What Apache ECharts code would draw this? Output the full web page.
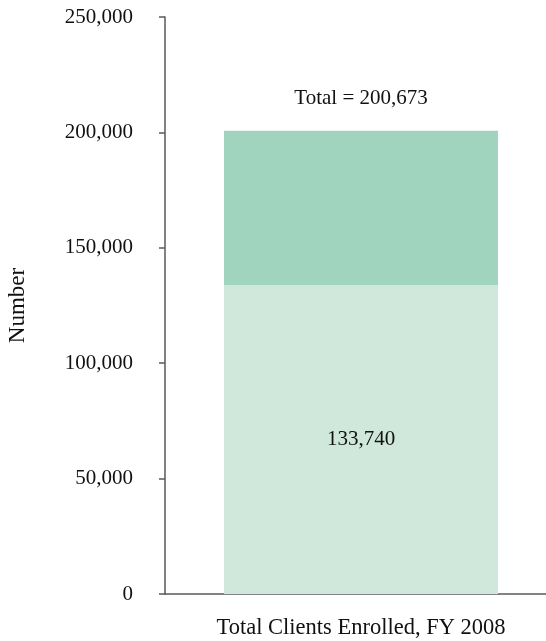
<!DOCTYPE html>
<html>
<head>
<meta charset="utf-8">
<script src="https://cdn.jsdelivr.net/npm/echarts@6/dist/echarts.min.js"></script>
<style>
  html, body { margin: 0; padding: 0; background: #fff; }
  #chart { width: 546px; height: 641px; }
</style>
</head>
<body>
<div id="chart"></div>
<script>
// Clients enrolled, fiscal year 2008
var categories = ['Total Clients Enrolled, FY 2008'];
var baseClients = [133740];   // lower segment
var totalClients = [200673];  // full stacked height
var yTicks = [0, 50000, 100000, 150000, 200000, 250000];

var upperClients = totalClients.map(function (t, i) { return t - baseClients[i]; });

function fmt(n) {
  return n.toString().replace(/\B(?=(\d{3})+(?!\d))/g, ',');
}

var FONT = '"Liberation Serif", "Times New Roman", serif';
var TEXT = '#111';
var AXIS = '#595959';

var chart = echarts.init(document.getElementById('chart'), null, { renderer: 'canvas' });
chart.setOption({
  animation: false,
  textStyle: { fontFamily: FONT },
  grid: { left: 165, right: -11, top: 17, bottom: 47, outerBoundsMode: 'none', containLabel: false },
  xAxis: {
    type: 'category',
    data: categories,
    axisLine: { show: true, lineStyle: { color: AXIS, width: 1.5 } },
    axisTick: { show: false },
    axisLabel: { color: TEXT, fontFamily: FONT, fontSize: 22.5, margin: 23 }
  },
  yAxis: {
    type: 'value',
    min: yTicks[0],
    max: yTicks[yTicks.length - 1],
    interval: yTicks[1] - yTicks[0],
    name: 'Number',
    nameLocation: 'middle',
    nameGap: 136,
    nameTextStyle: { color: TEXT, fontFamily: FONT, fontSize: 23 },
    axisLine: { show: true, lineStyle: { color: AXIS, width: 1.5 } },
    axisTick: { show: true, length: 6, lineStyle: { color: AXIS, width: 1.5 } },
    splitLine: { show: false },
    axisLabel: {
      color: TEXT, fontFamily: FONT, fontSize: 21, margin: 32,
      formatter: function (v) { return fmt(v); }
    }
  },
  series: [
    {
      type: 'bar',
      stack: 'clients',
      data: baseClients,
      barWidth: 274,
      itemStyle: { color: '#D0E8DC' },
      label: {
        show: true, position: 'inside',
        color: TEXT, fontFamily: FONT, fontSize: 21,
        formatter: function (p) { return fmt(baseClients[p.dataIndex]); }
      }
    },
    {
      type: 'bar',
      stack: 'clients',
      data: upperClients,
      barWidth: 274,
      itemStyle: { color: '#A0D4BE' },
      label: {
        show: true, position: 'top', distance: 22,
        color: TEXT, fontFamily: FONT, fontSize: 21,
        formatter: function (p) { return 'Total = ' + fmt(totalClients[p.dataIndex]); }
      }
    }
  ]
});
</script>
</body>
</html>
